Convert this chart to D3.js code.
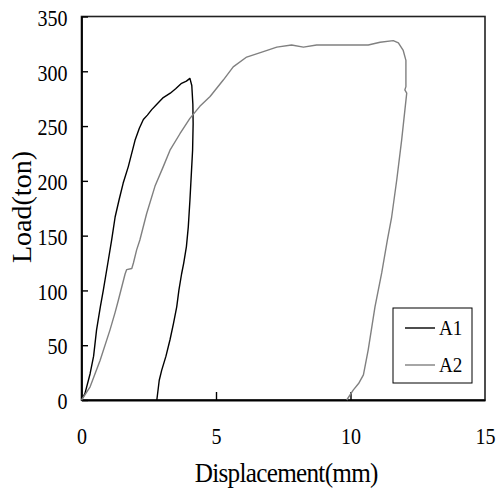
<!DOCTYPE html>
<html>
<head>
<meta charset="utf-8">
<script src="https://cdn.jsdelivr.net/npm/d3@7/dist/d3.min.js"></script>
<style>
  html, body { margin: 0; padding: 0; background: #fff; }
  svg { display: block; }
  text { font-family: "Liberation Serif", "Times New Roman", serif; fill: #000; }
</style>
</head>
<body>
<svg id="chart" width="497" height="489"></svg>
<script>
// ---- data ----
const seriesNames = ["A1", "A2"];
const xTicks = [0, 5, 10, 15];
const yTicks = [0, 50, 100, 150, 200, 250, 300, 350];

const a1X = [0, 0.13, 0.32, 0.45, 0.56, 0.7, 0.81, 1.0, 1.12, 1.25, 1.4, 1.55, 1.74, 1.99, 2.15, 2.3, 2.45, 2.61, 2.8, 3.04, 3.3, 3.5, 3.72, 3.9, 4.03, 4.1, 4.14, 4.15, 4.13, 4.08, 4.03, 3.97, 3.9, 3.8, 3.72, 3.62, 3.54, 3.42, 3.29, 3.14, 2.98, 2.89, 2.84, 2.80];
const a1Y = [0, 6, 24, 40, 64, 85, 100, 128, 146, 167, 183, 198, 213, 237, 248, 256, 260, 265, 270, 276, 280, 284, 289, 291, 293.5, 287, 270, 252, 228, 205, 182, 158, 140, 125, 115, 100, 85, 70, 55, 40, 27, 18, 8, 0];

const a2X = [0, 0.32, 0.69, 1.06, 1.25, 1.37, 1.62, 1.68, 1.87, 1.93, 2.05, 2.17, 2.42, 2.73, 3.04, 3.29, 3.66, 4.03, 4.40, 4.78, 5.27, 5.64, 6.14, 6.76, 7.26, 7.81, 8.25, 8.74, 9.5, 10.2, 10.66, 11.1, 11.59, 11.78, 11.96, 12.06, 12.06, 12.02, 12.09, 11.9, 11.72, 11.53, 11.37, 11.16, 10.91, 10.66, 10.48, 10.30, 10.10, 9.86];
const a2Y = [0, 12, 36, 64, 80, 91, 115, 119, 120, 125, 137, 146, 170, 195, 213, 228, 243, 257, 268, 277, 292, 304, 313, 318, 322, 324, 322, 324, 324, 324, 324, 326.5, 328, 326, 319, 310, 286, 283, 280, 237, 201, 167, 146, 116, 85, 46, 23, 15, 9, 0];

const seriesColors = ["#000000", "#808080"];

// ---- layout ----
const svg = d3.select("#chart");
const mLeft = 81.5, mRight = 485, mTop = 16.5, mBottom = 400;
const x = d3.scaleLinear().domain([0, 15]).range([mLeft, mRight]);
const y = d3.scaleLinear().domain([0, 350]).range([mBottom, mTop]);
const sx = 0.87;

// frame
svg.append("rect")
  .attr("x", mLeft).attr("y", mTop)
  .attr("width", mRight - mLeft).attr("height", mBottom - mTop)
  .attr("fill", "none").attr("stroke", "#222").attr("stroke-width", 1.6);

// y axis
const yAxis = svg.append("g")
  .attr("transform", `translate(${mLeft},0)`)
  .call(d3.axisLeft(y).tickValues(yTicks).tickSizeInner(-6.5).tickSizeOuter(0).tickPadding(14));
yAxis.select(".domain").attr("stroke", "#000").attr("stroke-width", 1.8);
yAxis.selectAll(".tick line").attr("stroke", "#000").attr("stroke-width", 1.4);
yAxis.selectAll(".tick text")
  .attr("font-size", 23).attr("font-family", "Liberation Serif")
  .attr("x", -14 / sx).attr("dy", "0.38em")
  .attr("transform", `scale(${sx},1)`);

// x axis
const xAxis = svg.append("g")
  .attr("transform", `translate(0,${mBottom})`)
  .call(d3.axisBottom(x).tickValues(xTicks).tickSizeInner(-8).tickSizeOuter(0).tickPadding(28));
xAxis.select(".domain").attr("stroke", "#000").attr("stroke-width", 2.2);
xAxis.selectAll(".tick line").attr("stroke", "#000").attr("stroke-width", 1.4)
  .attr("display", d => (d === 0 || d === 15) ? "none" : null);
xAxis.selectAll(".tick text")
  .attr("font-size", 23).attr("font-family", "Liberation Serif")
  .attr("transform", `scale(${sx},1)`);

// axis titles
svg.append("text")
  .attr("transform", `translate(${(mLeft + mRight) / 2 + 3},482) scale(0.9,1)`)
  .attr("text-anchor", "middle")
  .attr("font-size", 28)
  .attr("letter-spacing", "-0.8")
  .text("Displacement(mm)");

svg.append("text")
  .attr("transform", `translate(31,207) rotate(-90)`)
  .attr("text-anchor", "middle")
  .attr("font-size", 28)
  .text("Load(ton)");

// lines
const line = d3.line().x(d => x(d[0])).y(d => y(d[1]));
const series = [
  d3.zip(a1X, a1Y),
  d3.zip(a2X, a2Y)
];
series.forEach((s, i) => {
  svg.append("path")
    .datum(s)
    .attr("d", line)
    .attr("fill", "none")
    .attr("stroke", seriesColors[i])
    .attr("stroke-width", 1.4)
    .attr("stroke-linejoin", "round");
});

// legend
const lg = svg.append("g");
lg.append("rect")
  .attr("x", 393).attr("y", 308).attr("width", 79).attr("height", 75)
  .attr("fill", "#fff").attr("stroke", "#000").attr("stroke-width", 1);
seriesNames.forEach((name, i) => {
  const yy = 328 + i * 37;
  lg.append("line")
    .attr("x1", 405).attr("x2", 435).attr("y1", yy).attr("y2", yy)
    .attr("stroke", seriesColors[i]).attr("stroke-width", 1.4);
  lg.append("text")
    .attr("transform", `translate(439,${yy + 7}) scale(0.87,1)`)
    .attr("font-size", 22)
    .text(name);
});
</script>
</body>
</html>
